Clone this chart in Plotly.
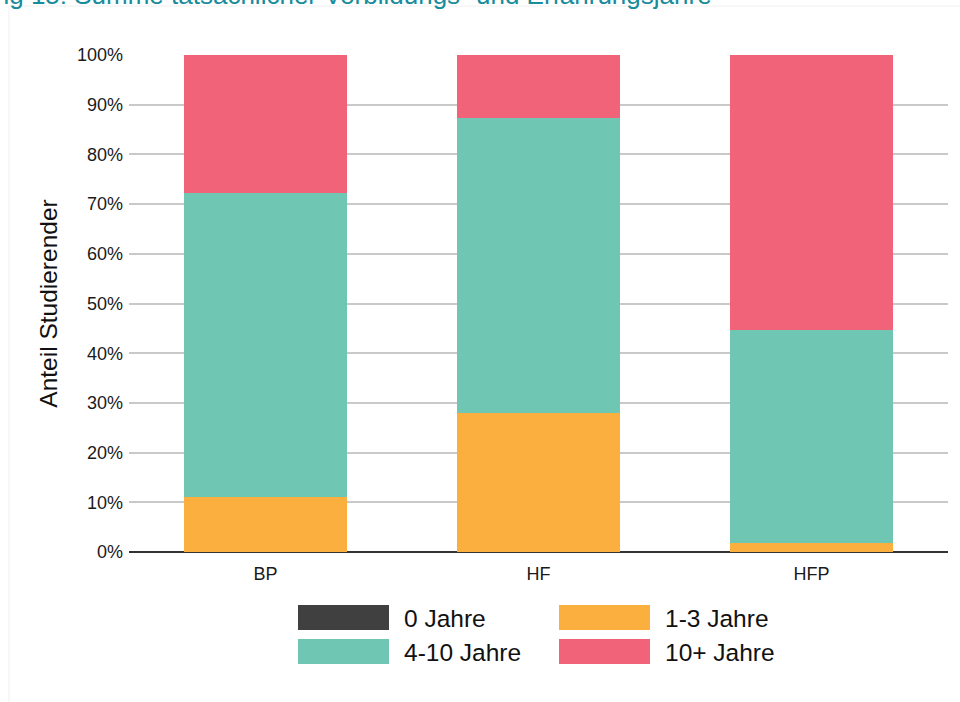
import plotly.graph_objects as go

categories = ["BP", "HF", "HFP"]
series_names = ["0 Jahre", "1-3 Jahre", "4-10 Jahre", "10+ Jahre"]
vals_0 = [0.0, 0.0, 0.0]
vals_1_3 = [11.0, 28.0, 1.8]
vals_4_10 = [61.2, 59.3, 42.9]
vals_10p = [27.8, 12.7, 55.3]
series_values = [vals_0, vals_1_3, vals_4_10, vals_10p]
colors = ["#404040", "#FAAF3F", "#6FC7B3", "#F06378"]
y_ticks = [0, 10, 20, 30, 40, 50, 60, 70, 80, 90, 100]
y_tick_labels = [f"{t}%" for t in y_ticks]
title_text = "Abbildung 15: Summe tatsächlicher Vorbildungs- und Erfahrungsjahre"

W, H = 960, 702
L, R, T, B = 129, 12, 55, 150
PW = W - L - R
PH = H - T - B

def px(x):
    return (x - L) / PW

def py(y):
    return (H - B - y) / PH

fig = go.Figure()
for name, vals, col in zip(series_names, series_values, colors):
    fig.add_trace(go.Bar(
        x=categories, y=vals, name=name, marker=dict(color=col, line=dict(width=0)),
        width=0.6, showlegend=False,
    ))

FONT = "Liberation Sans, Arial, sans-serif"

shapes = []
annotations = []
# faint outer frame
shapes.append(dict(type="line", xref="paper", yref="paper", x0=px(9), x1=px(9), y0=py(702), y1=py(6),
                   line=dict(color="#F0F0F0", width=1)))
shapes.append(dict(type="line", xref="paper", yref="paper", x0=px(9), x1=px(960), y0=py(6), y1=py(6),
                   line=dict(color="#F0F0F0", width=1)))
# custom legend (2 columns)
legend_pos = [(298, 605), (559, 605), (298, 639), (559, 639)]
for name, col, (lx, ly) in zip(series_names, colors, legend_pos):
    shapes.append(dict(type="rect", xref="paper", yref="paper",
                       x0=px(lx), x1=px(lx + 91), y0=py(ly + 25), y1=py(ly),
                       fillcolor=col, line=dict(width=0)))
    annotations.append(dict(xref="paper", yref="paper", x=px(lx + 104), y=py(ly + 13),
                            xanchor="left", yanchor="middle", text=name, showarrow=False,
                            font=dict(family=FONT, size=24.5, color="#111111")))

# cut-off title at the top
annotations.append(dict(xref="paper", yref="paper", x=px(714), y=py(-5),
                        xanchor="right", yanchor="middle", text=title_text, showarrow=False,
                        font=dict(family=FONT, size=26, color="#178C9C")))

fig.update_layout(
    barmode="stack",
    width=W, height=H,
    margin=dict(l=L, r=R, t=T, b=B),
    paper_bgcolor="white", plot_bgcolor="white",
    bargap=0.4,
    shapes=shapes,
    annotations=annotations,
    font=dict(family=FONT, color="#1a1a1a"),
    xaxis=dict(
        tickfont=dict(size=18, color="#1a1a1a"),
        showgrid=False, showline=False, ticks="",
        range=[-0.5, 2.5], ticklabelstandoff=9,
    ),
    yaxis=dict(
        range=[0, 100],
        tickvals=y_ticks, ticktext=y_tick_labels,
        tickfont=dict(size=18, color="#1a1a1a"),
        showgrid=True, gridcolor="#C9C9C9", gridwidth=2,
        zeroline=True, zerolinecolor="#333333", zerolinewidth=1.5,
        title=dict(text="Anteil Studierender", font=dict(size=24.5, color="#111111"), standoff=12),
        ticks="", ticklen=0, ticklabelstandoff=5,
    ),
)

fig.write_html("out.html", config={"displayModeBar": False},
               post_script="document.body.style.margin='0';document.body.style.overflow='hidden';")
